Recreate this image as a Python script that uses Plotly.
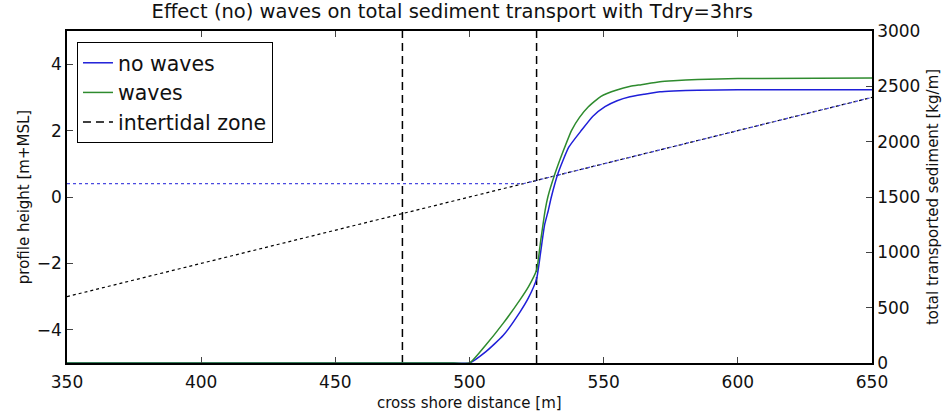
import plotly.graph_objects as go

# cross-shore positions [m] and total transported sediment [kg/m]
x_no_waves = [350, 450, 494, 500, 506, 512.6, 518.8, 522, 525, 526.5, 528, 529.4, 530.5,
              533, 537, 541.8, 546, 550.5, 555, 559.8, 565, 571, 576, 585, 600, 650]
s_no_waves = [0, 0, 0, 0, 100, 250, 460, 590, 760, 1000, 1250, 1382, 1500,
              1714, 1950, 2105, 2230, 2316, 2370, 2406, 2428, 2451, 2458, 2465, 2468, 2470]

x_waves = [350, 450, 494, 500, 506, 512.6, 518.8, 522, 525, 526.5, 528.2, 529.2,
           531.9, 535, 538.1, 541, 544.3, 549, 554.9, 560, 564, 571, 576, 585, 600, 650]
s_waves = [0, 0, 0, 0, 160, 360, 570, 690, 840, 1100, 1382, 1500,
           1714, 1920, 2105, 2220, 2316, 2410, 2467, 2500, 2515, 2542, 2551, 2562, 2570, 2575]

# bed profile and water level [m+MSL]
profile_x = [350, 650]
profile_z = [-3.0, 3.0]
water_x = [350, 520, 650]
water_z = [0.4, 0.4, 3.0]

# intertidal zone boundaries [m]
intertidal_x = [475, 525]

x_ticks = [350, 400, 450, 500, 550, 600, 650]
y_ticks = [-4, -2, 0, 2, 4]
y2_ticks = [0, 500, 1000, 1500, 2000, 2500, 3000]

BLUE = "#1f1fd8"
GREEN = "#2e8b2e"
FONT = "DejaVu Sans"

fig = go.Figure()

fig.add_trace(go.Scatter(x=profile_x, y=profile_z, mode="lines",
                         line=dict(color="black", width=1.2, dash="dot"),
                         showlegend=False, hoverinfo="skip"))
fig.add_trace(go.Scatter(x=water_x, y=water_z, mode="lines",
                         line=dict(color="#4a4ae0", width=1.2, dash="dot"),
                         showlegend=False, hoverinfo="skip"))

for i, xv in enumerate(intertidal_x):
    fig.add_trace(go.Scatter(x=[xv, xv], y=[-5, 5], mode="lines",
                             line=dict(color="black", width=1.5, dash="8px,5px"),
                             name="intertidal zone", legendgroup="tz",
                             showlegend=(i == 0), legendrank=3))

fig.add_trace(go.Scatter(x=x_no_waves, y=s_no_waves, mode="lines", yaxis="y2",
                         line=dict(color=BLUE, width=1.5, shape="spline", smoothing=0.5),
                         name="no waves", legendrank=1))
fig.add_trace(go.Scatter(x=x_waves, y=s_waves, mode="lines", yaxis="y2",
                         line=dict(color=GREEN, width=1.5, shape="spline", smoothing=0.5),
                         name="waves", legendrank=2))

fig.update_layout(
    width=946, height=412,
    margin=dict(l=67, r=74, t=31, b=49),
    paper_bgcolor="white", plot_bgcolor="white",
    font=dict(family=FONT, color="#111111", size=17),
    title=dict(text="Effect (no) waves on total sediment transport with Tdry=3hrs",
               x=0.478, xanchor="center", y=0.972, yanchor="middle",
               font=dict(size=19.5)),
    showlegend=True,
    legend=dict(x=0.0124, y=0.967, xanchor="left", yanchor="top",
                bgcolor="white", bordercolor="black", borderwidth=1,
                font=dict(size=20.5), tracegroupgap=0, traceorder="normal",
                itemwidth=30),
    xaxis=dict(range=[350, 650], tickvals=x_ticks, ticks="inside", ticklen=6,
               showline=True, linecolor="black", linewidth=1.5, mirror="ticks",
               showgrid=False, zeroline=False, tickfont=dict(size=17),
               ticklabelstandoff=3, automargin=False),
    yaxis=dict(range=[-5, 5], tickvals=y_ticks, ticktext=["\u22124", "\u22122", "0", "2", "4"],
               ticks="inside", ticklen=6, automargin=False,
               showline=True, linecolor="black", linewidth=1.5, mirror=True,
               showgrid=False, zeroline=False, tickfont=dict(size=17),
               title=dict(text="profile height [m+MSL]", font=dict(size=15),
                          standoff=4)),
    yaxis2=dict(range=[0, 3000], tickvals=y2_ticks, overlaying="y", side="right",
                ticks="inside", ticklen=6, showline=True, linecolor="black",
                linewidth=1.5, showgrid=False, zeroline=False, automargin=False,
                tickfont=dict(size=17),
                title=dict(text="total transported sediment [kg/m]",
                           font=dict(size=15), standoff=8)),
    annotations=[dict(text="cross shore distance [m]", xref="paper", yref="paper",
                      x=0.5, y=-0.121, xanchor="center", yanchor="middle",
                      showarrow=False, font=dict(size=15))],
)

fig.write_html("out.html")
